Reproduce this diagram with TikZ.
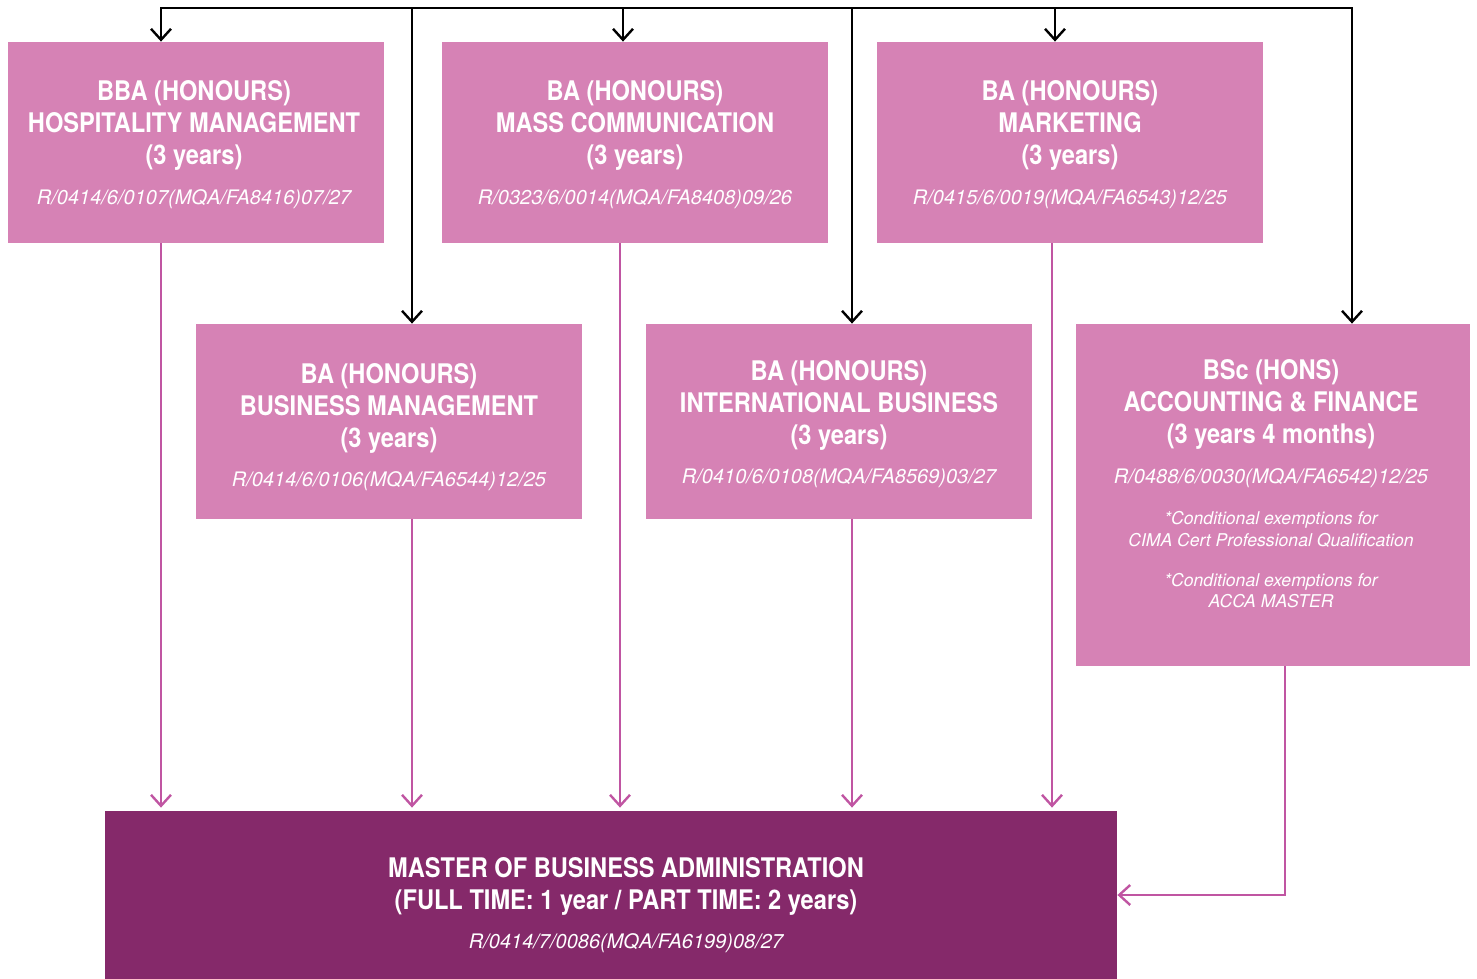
\documentclass[tikz,border=0pt]{standalone}
\usepackage{fontspec}
\setmainfont{TeX Gyre Heros}
\newfontfamily\ttlfont[FakeStretch=0.875]{TeX Gyre Heros}
\newfontfamily\codfont{TeX Gyre Heros}
\usetikzlibrary{arrows.meta,fit}
\definecolor{boxpink}{HTML}{D682B5}
\definecolor{mbapurple}{HTML}{85296A}
\definecolor{linepink}{HTML}{C055A2}
\newcommand\ttlstyle{\fontsize{13.5}{16}\ttlfont\bfseries}
\newcommand\codstyle{\fontsize{10}{12}\codfont\mdseries\itshape}
\newcommand\smlstyle{\fontsize{8.8}{11}\codfont\mdseries\itshape}
\tikzset{
  x=0.5pt, y=-0.5pt,
  chev/.tip={Straight Barb[length=5.5pt, width=10pt, line width=1.2pt]},
  pinkbox/.style={fill=boxpink, inner sep=0pt, draw=none},
  mbabox/.style={fill=mbapurple, inner sep=0pt, draw=none},
  txt/.style={text=white, align=center, anchor=base, inner sep=0pt, font=\ttlstyle},
  blkline/.style={draw=black, line width=1.2pt, -chev},
  pinkline/.style={draw=linepink, line width=1.2pt, -chev},
}
\begin{document}
\begin{tikzpicture}
\useasboundingbox (0,0) rectangle (1477,979);
% boxes
\node[pinkbox, fit={(8,42) (384,243)}] (b1) {};
\node[pinkbox, fit={(442,42) (828,243)}] (b2) {};
\node[pinkbox, fit={(877,42) (1263,243)}] (b3) {};
\node[pinkbox, fit={(196,324) (582,519)}] (b4) {};
\node[pinkbox, fit={(646,324) (1032,519)}] (b5) {};
\node[pinkbox, fit={(1076,324) (1470,666)}] (b6) {};
\node[mbabox, fit={(105,811) (1117,979)}] (mba) {};
% texts (anchor base = baseline of the last line)
\node[txt] (t1) at (194,204) {BBA (HONOURS)\\HOSPITALITY MANAGEMENT\\(3 years)\\[3.5pt]{\codstyle R/0414/6/0107(MQA/FA8416)07/27}};
\node[txt] (t2) at (635,204) {BA (HONOURS)\\MASS COMMUNICATION\\(3 years)\\[3.5pt]{\codstyle R/0323/6/0014(MQA/FA8408)09/26}};
\node[txt] (t3) at (1070,204) {BA (HONOURS)\\MARKETING\\(3 years)\\[3.5pt]{\codstyle R/0415/6/0019(MQA/FA6543)12/25}};
\node[txt] (t4) at (389,486) {BA (HONOURS)\\BUSINESS MANAGEMENT\\(3 years)\\[3.5pt]{\codstyle R/0414/6/0106(MQA/FA6544)12/25}};
\node[txt] (t5) at (839,483) {BA (HONOURS)\\INTERNATIONAL BUSINESS\\(3 years)\\[3.5pt]{\codstyle R/0410/6/0108(MQA/FA8569)03/27}};
\node[txt] (t6) at (1271,607) {BSc (HONS)\\ACCOUNTING \& FINANCE\\(3 years 4 months)\\[4pt]{\codstyle R/0488/6/0030(MQA/FA6542)12/25}\\[4.5pt]{\smlstyle *Conditional exemptions for}\\[-5pt]{\smlstyle CIMA Cert Professional Qualification}\\[4pt]{\smlstyle *Conditional exemptions for}\\[-5.5pt]{\smlstyle ACCA MASTER}};
\node[txt] (t7) at (626,948) {MASTER OF BUSINESS ADMINISTRATION\\(FULL TIME: 1 year / PART TIME: 2 years)\\[3.5pt]{\codstyle R/0414/7/0086(MQA/FA6199)08/27}};
% black distribution bus
\coordinate (c1) at (161,8);
\coordinate (c2) at (412,8);
\coordinate (c3) at (623,8);
\coordinate (c4) at (852,8);
\coordinate (c5) at (1055,8);
\coordinate (c6) at (1352,8);
\draw[blkline, chev-chev] (c1 |- b1.north) -- (c1) -- (c6) -- (c6 |- b6.north);
\draw[blkline] (c2) -- (c2 |- b4.north);
\draw[blkline] (c3) -- (c3 |- b2.north);
\draw[blkline] (c4) -- (c4 |- b5.north);
\draw[blkline] (c5) -- (c5 |- b3.north);
% pink connectors to MBA
\coordinate (p1) at (161,0);
\coordinate (p2) at (412,0);
\coordinate (p3) at (620,0);
\coordinate (p4) at (852,0);
\coordinate (p5) at (1052,0);
\coordinate (p6) at (1285,0);
\draw[pinkline, shorten >=1.5pt] (p1 |- b1.south) -- (p1 |- mba.north);
\draw[pinkline, shorten >=1.5pt] (p2 |- b4.south) -- (p2 |- mba.north);
\draw[pinkline, shorten >=1.5pt] (p3 |- b2.south) -- (p3 |- mba.north);
\draw[pinkline, shorten >=1.5pt] (p4 |- b5.south) -- (p4 |- mba.north);
\draw[pinkline, shorten >=1.5pt] (p5 |- b3.south) -- (p5 |- mba.north);
\draw[pinkline] (p6 |- b6.south) |- (mba.east);
\end{tikzpicture}
\end{document}
